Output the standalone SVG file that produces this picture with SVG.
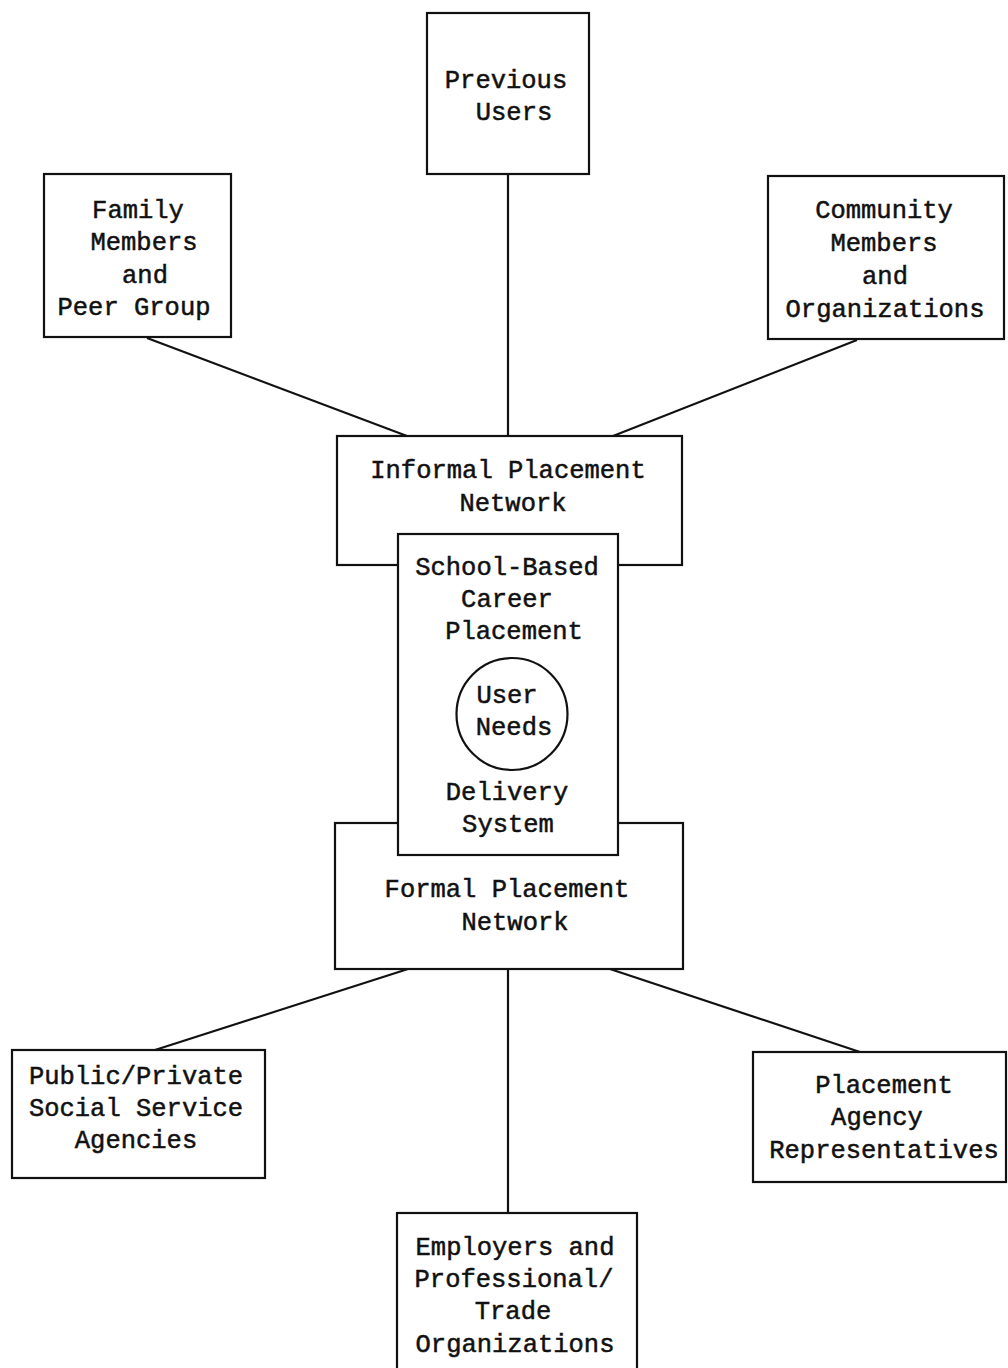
<svg xmlns="http://www.w3.org/2000/svg" width="1008" height="1368" viewBox="0 0 1008 1368">
  <style>
    .box { fill: #ffffff; stroke: #111111; stroke-width: 2.2; }
    .link { fill: none; stroke: #111111; stroke-width: 2.2; }
    text { font-family: "Liberation Mono", "DejaVu Sans Mono", monospace; font-size: 25.5px; fill: #111111; stroke: #111111; stroke-width: 0.5; text-anchor: middle; }
  </style>
  <rect width="1008" height="1368" fill="#ffffff"/>

  <!-- connectors -->
  <g id="connectors">
    <line class="link" x1="147" y1="338" x2="407" y2="436"/>
    <line class="link" x1="508" y1="174" x2="508" y2="436"/>
    <line class="link" x1="857" y1="340" x2="613" y2="436"/>
    <line class="link" x1="408" y1="969" x2="155" y2="1050"/>
    <line class="link" x1="508" y1="969" x2="508" y2="1213"/>
    <line class="link" x1="610" y1="969" x2="860" y2="1052"/>
  </g>

  <g id="previous-users">
    <rect class="box" x="427" y="13" width="162" height="161"/>
    <text x="506" y="88">Previous</text>
    <text x="514" y="120">Users</text>
  </g>

  <g id="family-peer">
    <rect class="box" x="44" y="174" width="187" height="163"/>
    <text x="138" y="218">Family</text>
    <text x="144" y="250">Members</text>
    <text x="145" y="283">and</text>
    <text x="134" y="315">Peer Group</text>
  </g>

  <g id="community">
    <rect class="box" x="768" y="176" width="236" height="163"/>
    <text x="884" y="218">Community</text>
    <text x="884" y="251">Members</text>
    <text x="885" y="284">and</text>
    <text x="885" y="317">Organizations</text>
  </g>

  <g id="informal-network">
    <rect class="box" x="337" y="436" width="345" height="129"/>
    <text x="508" y="478">Informal Placement</text>
    <text x="513" y="511">Network</text>
  </g>

  <g id="formal-network">
    <rect class="box" x="335" y="823" width="348" height="146"/>
    <text x="507" y="897">Formal Placement</text>
    <text x="515" y="930">Network</text>
  </g>

  <g id="school-based">
    <rect class="box" x="398" y="534" width="220" height="321"/>
    <text x="507" y="575">School-Based</text>
    <text x="507" y="607">Career</text>
    <text x="514" y="639">Placement</text>
    <text x="507" y="800">Delivery</text>
    <text x="508" y="832">System</text>
  </g>

  <g id="user-needs">
    <ellipse class="box" cx="512" cy="714" rx="55.5" ry="56"/>
    <text x="507" y="703">User</text>
    <text x="514" y="735">Needs</text>
  </g>

  <g id="social-service">
    <rect class="box" x="12" y="1050" width="253" height="128"/>
    <text x="136" y="1084">Public/Private</text>
    <text x="136" y="1116">Social Service</text>
    <text x="136" y="1148">Agencies</text>
  </g>

  <g id="placement-agency">
    <rect class="box" x="753" y="1052" width="253" height="130"/>
    <text x="884" y="1093">Placement</text>
    <text x="877" y="1125">Agency</text>
    <text x="884" y="1158">Representatives</text>
  </g>

  <g id="employers">
    <rect class="box" x="397" y="1213" width="240" height="160"/>
    <text x="515" y="1255">Employers and</text>
    <text x="514" y="1287">Professional/</text>
    <text x="513" y="1319">Trade</text>
    <text x="515" y="1352">Organizations</text>
  </g>
</svg>
